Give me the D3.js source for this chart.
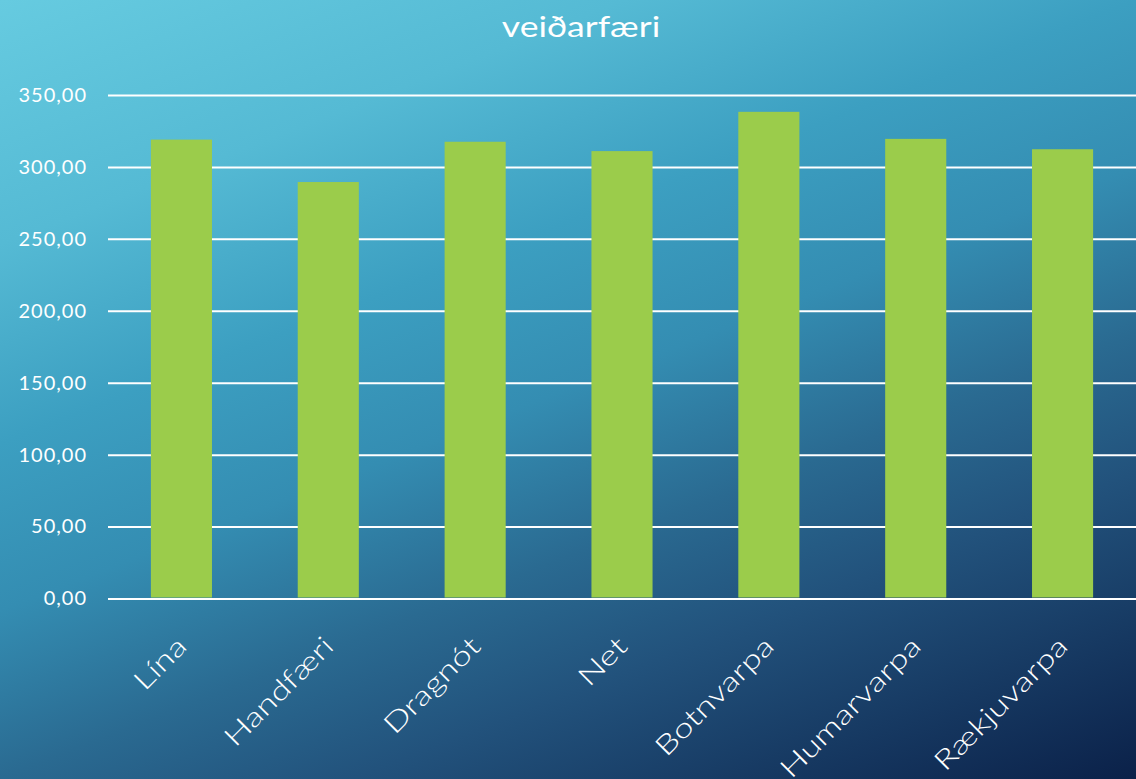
<!DOCTYPE html>
<html>
<head>
<meta charset="utf-8">
<script src="https://cdn.jsdelivr.net/npm/d3@7"></script>
<style>
  html, body { margin: 0; padding: 0; overflow: hidden; }
  svg { display: block; font-family: Lato, "Open Sans", sans-serif; }
</style>
</head>
<body>
<div id="chart"></div>
<script>
// Data
var categories = ["Lína", "Handfæri", "Dragnót", "Net", "Botnvarpa", "Humarvarpa", "Rækjuvarpa"];
var values = [319.0, 289.5, 317.5, 311.0, 338.3, 319.5, 312.3];
var yTicks = [0, 50, 100, 150, 200, 250, 300, 350];
var title = "veiðarfæri";

var width = 1136, height = 779;
var margin = { top: 95, right: 0, bottom: 181, left: 108 };
// Lato is narrower than the original geometric face, so stretch text a bit
var stretch = 1.3;

var svg = d3.select("#chart").append("svg")
    .attr("width", width)
    .attr("height", height);

// Background gradient, light cyan top-left to navy bottom-right
var defs = svg.append("defs");
var grad = defs.append("linearGradient")
    .attr("id", "bg")
    .attr("gradientUnits", "userSpaceOnUse")
    .attr("x1", 0).attr("y1", 0)
    .attr("x2", 414).attr("y2", 1060);
[[0, "#66cbe0"], [0.2, "#55bad4"], [0.363, "#3c9fc1"], [0.5, "#348db2"],
 [0.637, "#2a6a91"], [0.75, "#22527c"], [1, "#0b2149"]].forEach(function(s) {
    grad.append("stop").attr("offset", s[0]).attr("stop-color", s[1]);
});
svg.append("rect")
    .attr("width", width)
    .attr("height", height)
    .attr("fill", "url(#bg)");

// Title
svg.append("text")
    .attr("transform", "translate(581,37) scale(1.27,1)")
    .attr("text-anchor", "middle")
    .attr("fill", "#ffffff")
    .style("font-size", "28px")
    .text(title);

var plotW = width - margin.left - margin.right;
var plotH = height - margin.top - margin.bottom;

var x = d3.scaleBand()
    .domain(categories)
    .range([0, plotW])
    .paddingInner(0.584)
    .paddingOuter(0.292);

var y = d3.scaleLinear()
    .domain([0, 350])
    .range([plotH + 0.5, 0]);

var g = svg.append("g")
    .attr("transform", "translate(" + margin.left + "," + margin.top + ")");

// Gridlines + y labels
var yAxis = d3.axisLeft(y)
    .tickValues(yTicks)
    .tickSize(-plotW)
    .tickPadding(21)
    .tickFormat(function(d) { return d3.format(".2f")(d).replace(".", ","); });

var yG = g.append("g").call(yAxis);
yG.select(".domain").remove();
yG.selectAll(".tick line")
    .attr("stroke", "#ffffff")
    .attr("stroke-width", 2);
yG.selectAll(".tick text")
    .attr("fill", "#ffffff")
    .style("font-family", "Lato, sans-serif")
    .style("font-size", "20px")
    .style("letter-spacing", "1px");

// Bars
g.selectAll("rect.bar")
    .data(values)
    .enter().append("rect")
    .attr("class", "bar")
    .attr("x", function(d, i) { return x(categories[i]); })
    .attr("width", x.bandwidth())
    .attr("y", function(d) { return y(d); })
    .attr("height", function(d) { return y(0) - y(d) - 1; })
    .attr("fill", "#9bcc4b");

// Category labels, rotated (the last ones run off the bottom, as in the original)
g.selectAll("text.cat")
    .data(categories)
    .enter().append("text")
    .attr("class", "cat")
    .attr("text-anchor", "end")
    .attr("fill", "#ffffff")
    .style("font-size", "27px")
    .style("font-weight", 300)
    .attr("transform", function(d) {
        var cx = x(d) + x.bandwidth() / 2 + 7;
        return "translate(" + cx + "," + (plotH + 50) + ") rotate(-45) scale(" + stretch + ",1)";
    })
    .text(function(d) { return d; });
</script>
</body>
</html>
